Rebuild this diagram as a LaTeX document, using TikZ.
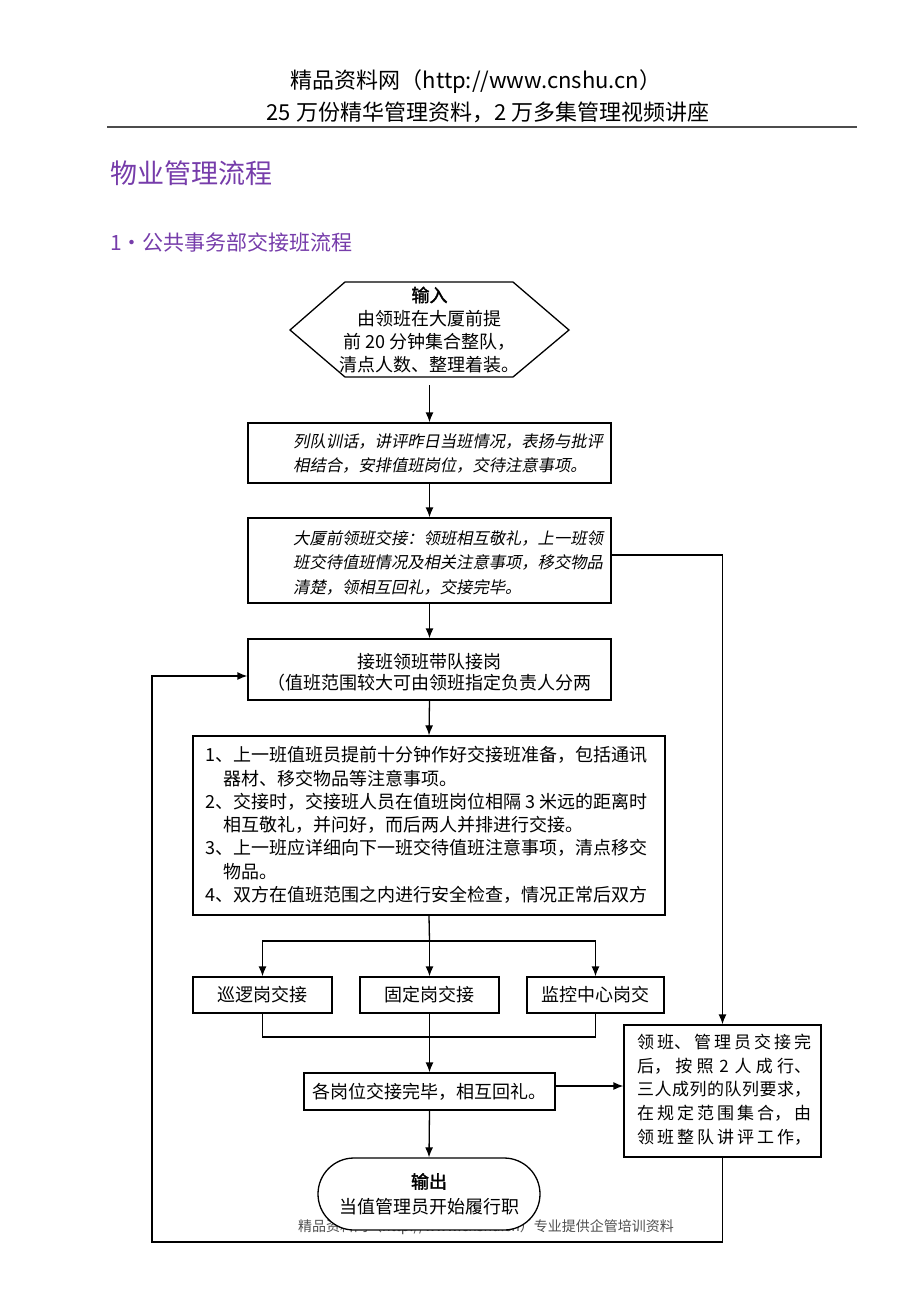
\documentclass[tikz,border=0pt]{standalone}
\usepackage{fontspec}
\setmainfont{Noto Sans CJK SC}
\newfontfamily\cjkit[FakeSlant=0.2]{Noto Sans CJK SC}
\newfontfamily\cjkbf[FakeBold=2]{Noto Sans CJK SC}
\usetikzlibrary{arrows.meta,shapes.misc}
\XeTeXlinebreaklocale "zh"
\XeTeXlinebreakskip=0pt plus 4pt
\definecolor{ttl}{RGB}{118,60,170}
\definecolor{ftr}{RGB}{80,80,80}
\begin{document}
\begin{tikzpicture}[x=1pt,y=-1pt,
  box/.style={draw=black, line width=1.3pt, inner sep=0pt, fill=white},
  arr/.style={line width=1.3pt, -{Latex[length=10pt,width=8pt]}},
  ln/.style={line width=1.3pt},
  t18/.style={font=\fontsize{18}{23.3}\selectfont, inner sep=0pt},
  tit/.style={font=\cjkit\fontsize{16.3}{23.5}\selectfont, inner sep=0pt, align=left, anchor=west}]
\fill[white] (0,0) rectangle (920,1302);
\useasboundingbox (0,0) rectangle (920,1302);
% header
\node[font=\fontsize{22}{22}\selectfont, inner sep=0pt] (h1) at (476,82) {精品资料网（http://www.cnshu.cn）};
\node[font=\fontsize{22}{22}\selectfont, inner sep=0pt] (h2) at (488,112) {25 万份精华管理资料，2 万多集管理视频讲座};
\draw[line width=2pt, gray!60!black] (107,127) -- (857,127);
% titles
\node[anchor=west, text=ttl, font=\fontsize{27}{27}\selectfont, inner sep=0pt] (t1) at (110,173) {物业管理流程};
\node[anchor=west, text=ttl, font=\fontsize{21}{21}\selectfont, inner sep=0pt] (t2) at (110,242) {1・公共事务部交接班流程};
% input hexagon
\draw[ln] (290,330) -- (345,282) -- (513,282) -- (569,330) -- (513,377) -- (345,377) -- cycle;
\node[t18, align=center] (in) at (429.5,330) {{\cjkbf 输入}\\由领班在大厦前提\\前 20 分钟集合整队，\\清点人数、整理着装。};
\coordinate (inb) at (429.5,385);
% box 1
\node[box, minimum width=363pt, minimum height=60pt] (b1) at (429.5,453) {};
\node[tit] (b1t) at (293,453.5) {列队训话，讲评昨日当班情况，表扬与批评\\相结合，安排值班岗位，交待注意事项。};
% box 2
\node[box, minimum width=363pt, minimum height=85pt] (b2) at (429.5,560.5) {};
\node[tit, font=\cjkit\fontsize{16.3}{24.5}\selectfont] (b2t) at (293,562.5) {大厦前领班交接：领班相互敬礼，上一班领\\班交待值班情况及相关注意事项，移交物品\\清楚，领相互回礼，交接完毕。};
% box 3
\node[box, minimum width=363pt, minimum height=61pt] (b3) at (429.5,669.5) {};
\node[t18, align=center, font=\fontsize{18}{21.5}\selectfont] (b3t) at (429.5,672.5) {接班领班带队接岗\\（值班范围较大可由领班指定负责人分两};
% box 4
\node[box, minimum width=472pt, minimum height=179pt] (b4) at (429,825.5) {};
\node[t18, align=left, anchor=west] (b4t) at (205,825) {1、上一班值班员提前十分钟作好交接班准备，包括通讯\\\hspace*{18pt}器材、移交物品等注意事项。\\2、交接时，交接班人员在值班岗位相隔 3 米远的距离时\\\hspace*{18pt}相互敬礼，并问好，而后两人并排进行交接。\\3、上一班应详细向下一班交待值班注意事项，清点移交\\\hspace*{18pt}物品。\\4、双方在值班范围之内进行安全检查，情况正常后双方};
% row
\node[box, t18, minimum width=139pt, minimum height=36pt] (r1) at (262.5,995) {巡逻岗交接};
\node[box, t18, minimum width=139pt, minimum height=36pt] (r2) at (429.5,995) {固定岗交接};
\node[box, t18, minimum width=137pt, minimum height=36pt] (r3) at (595.5,995) {监控中心岗交};
% gather
\node[box, t18, minimum width=251pt, minimum height=37pt] (gw) at (429.5,1091.5) {各岗位交接完毕，相互回礼。};
% right box
\node[box, minimum width=197pt, minimum height=132pt] (rb) at (722.5,1091) {};
\node[anchor=west, text width=174pt, align=justify, inner sep=0pt, font=\fontsize{17}{23.7}\selectfont] (rbt) at (637,1089.5) {\parfillskip=0pt 领班、管理员交接完\linebreak 后，按照 2 人成行、\linebreak 三人成列的队列要求，\linebreak 在规定范围集合，由\linebreak 领班整队讲评工作，\par};
% footer
\node[anchor=west, inner sep=0pt, text=ftr, font=\fontsize{14}{14}\selectfont] (ft) at (298,1227) {精品资料网（http://www.cnshu.cn）专业提供企管培训资料};
% output
\node[draw=black, line width=1.3pt, fill=white, rounded rectangle, minimum width=222pt, minimum height=72pt, inner sep=0pt, align=center, font=\fontsize{18}{25}\selectfont] (out) at (429,1194) {{\cjkbf 输出}\\当值管理员开始履行职};
% connectors
\draw[arr] (inb) -- (b1.north);
\draw[arr] (b1.south) -- (b2.north);
\draw[arr] (b2.south) -- (b3.north);
\draw[arr] (b3.south) -- (b4.north);
\coordinate (br) at (429.5,941);
\draw[ln] (b4.south) -- (br);
\draw[arr] (br) -- (r2.north);
\draw[arr] (br) -| (r1.north);
\draw[arr] (br) -| (r3.north);
\coordinate (mg) at (429.5,1037);
\draw[ln] (r1.south) |- (mg);
\draw[ln] (r3.south) |- (mg);
\draw[ln] (r2.south) -- (mg);
\draw[arr] (mg) -- (gw.north);
\draw[arr] (gw.south) -- (out.north);
\coordinate (ge) at ([yshift=5.5pt]gw.east);
\draw[arr] (ge) -- (ge -| rb.west);
\draw[arr] ([yshift=5.5pt]b2.east) -| (rb.north);
\coordinate (lc) at (152,1242);
\coordinate (b3in) at ([yshift=-6.5pt]b3.west);
\draw[arr] (rb.south) |- (lc) |- (b3in);
\end{tikzpicture}
\end{document}
